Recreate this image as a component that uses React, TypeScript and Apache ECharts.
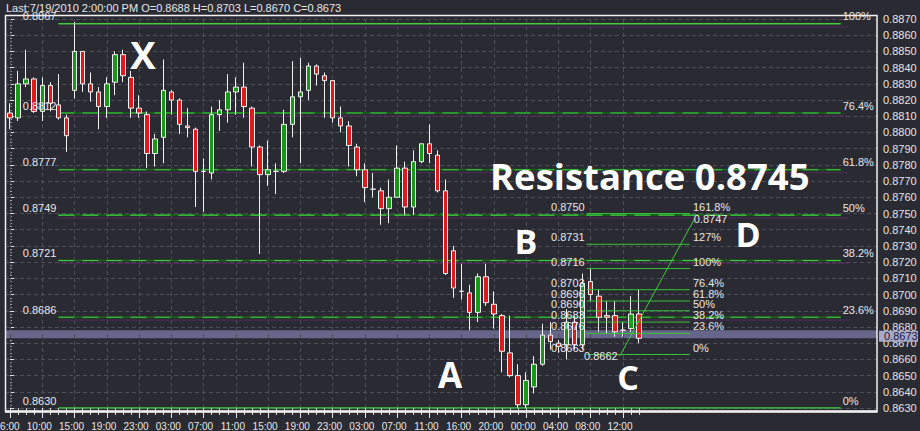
import React, { useEffect, useRef } from "react";
import * as echarts from "echarts";

const BG = "#2a2a32";
const headerText = "Last:7/19/2010 2:00:00 PM O=0.8688 H=0.8703 L=0.8670 C=0.8673";

const timeLabels = ["06:00", "10:00", "15:00", "19:00", "23:00", "03:00", "07:00", "11:00", "15:00", "19:00",
  "23:00", "03:00", "07:00", "11:00", "16:00", "20:00", "00:00", "04:00", "08:00", "12:00"];

const opens = [0.8812, 0.8809, 0.8830, 0.8833, 0.8813, 0.8829, 0.8817, 0.8809, 0.8826, 0.8850,
  0.8830, 0.8825, 0.8816, 0.8831, 0.8848, 0.8834, 0.8815, 0.8811, 0.8787, 0.8797,
  0.8825, 0.8820, 0.8804, 0.8802, 0.8776, 0.8775, 0.8811, 0.8814, 0.8825, 0.8828,
  0.8815, 0.8791, 0.8774, 0.8776, 0.8776, 0.8805, 0.8822, 0.8826, 0.8841, 0.8835,
  0.8832, 0.8809, 0.8804, 0.8791, 0.8777, 0.8765, 0.8764, 0.8753, 0.8760, 0.8778,
  0.8754, 0.8782, 0.8793, 0.8786, 0.8764, 0.8727, 0.8702, 0.8701, 0.8689, 0.8711,
  0.8694, 0.8687, 0.8664, 0.8650, 0.8632, 0.8643, 0.8657, 0.8675, 0.8670, 0.8669,
  0.8683, 0.8669, 0.8708, 0.8699, 0.8687, 0.8687, 0.8678, 0.8679, 0.8688];
const closes = [0.8809, 0.8830, 0.8833, 0.8813, 0.8829, 0.8818, 0.8809, 0.8798, 0.8850, 0.8830,
  0.8825, 0.8816, 0.8830, 0.8848, 0.8835, 0.8815, 0.8812, 0.8787, 0.8796, 0.8826,
  0.8820, 0.8805, 0.8803, 0.8776, 0.8776, 0.8811, 0.8814, 0.8825, 0.8828, 0.8816,
  0.8791, 0.8774, 0.8777, 0.8776, 0.8805, 0.8822, 0.8825, 0.8841, 0.8836, 0.8832,
  0.8809, 0.8804, 0.8792, 0.8777, 0.8766, 0.8765, 0.8753, 0.8760, 0.8778, 0.8754,
  0.8782, 0.8793, 0.8787, 0.8764, 0.8713, 0.8704, 0.8702, 0.8689, 0.8711, 0.8695,
  0.8688, 0.8665, 0.8650, 0.8632, 0.8647, 0.8657, 0.8675, 0.8671, 0.8668, 0.8683,
  0.8669, 0.8707, 0.8700, 0.8686, 0.8686, 0.8677, 0.8678, 0.8688, 0.8673];
const lows = [0.8802, 0.8807, 0.8828, 0.8812, 0.8807, 0.8813, 0.8808, 0.8788, 0.8821, 0.8825,
  0.8819, 0.8802, 0.8809, 0.8823, 0.8831, 0.8809, 0.8809, 0.8778, 0.8779, 0.8781,
  0.8811, 0.8799, 0.8797, 0.8754, 0.8751, 0.8771, 0.8801, 0.8806, 0.8811, 0.8809,
  0.8779, 0.8725, 0.8767, 0.8762, 0.8775, 0.8797, 0.8781, 0.8820, 0.8829, 0.8809,
  0.8806, 0.8800, 0.8779, 0.8773, 0.8757, 0.8760, 0.8743, 0.8744, 0.8760, 0.8749,
  0.8749, 0.8781, 0.8781, 0.8763, 0.8712, 0.8698, 0.8697, 0.8678, 0.8683, 0.8693,
  0.8679, 0.8652, 0.8649, 0.8630, 0.8630, 0.8639, 0.8656, 0.8666, 0.8664, 0.8660,
  0.8666, 0.8666, 0.8696, 0.8677, 0.8676, 0.8674, 0.8674, 0.8677, 0.8670];
const highs = [0.8818, 0.8838, 0.8851, 0.8834, 0.8834, 0.8831, 0.8836, 0.8811, 0.8868, 0.8850,
  0.8837, 0.8828, 0.8834, 0.8850, 0.8851, 0.8838, 0.8823, 0.8813, 0.8799, 0.8845,
  0.8826, 0.8821, 0.8815, 0.8803, 0.8784, 0.8816, 0.8820, 0.8836, 0.8834, 0.8843,
  0.8816, 0.8792, 0.8795, 0.8781, 0.8814, 0.8844, 0.8846, 0.8843, 0.8842, 0.8837,
  0.8832, 0.8816, 0.8807, 0.8793, 0.8781, 0.8775, 0.8766, 0.8771, 0.8792, 0.8782,
  0.8789, 0.8793, 0.8805, 0.8789, 0.8771, 0.8730, 0.8719, 0.8706, 0.8713, 0.8719,
  0.8702, 0.8688, 0.8687, 0.8657, 0.8652, 0.8662, 0.8682, 0.8683, 0.8672, 0.8691,
  0.8687, 0.8713, 0.8716, 0.8703, 0.8696, 0.8696, 0.8683, 0.8699, 0.8703];

// XA retracement
const xaPercents = ["100%", "76.4%", "61.8%", "50%", "38.2%", "23.6%", "0%"];
const xaValues = [0.8867, 0.8812, 0.8777, 0.8749, 0.8721, 0.8686, 0.8630];
const xaRange = [6, 103];

// BC extension
const bcPercents = ["161.8%", "127%", "100%", "76.4%", "61.8%", "50%", "38.2%", "23.6%", "0%"];
const bcValues = [0.8750, 0.8731, 0.8716, 0.8703, 0.8696, 0.8690, 0.8683, 0.8676, 0.8663];
const bcRange = [71.5, 84.3];

// C -> D projection
const cdX = [75.6, 84.9];
const cdY = [0.8662, 0.8747];

const lastPrice = 0.8673;
const bandRange = [0.8673, 0.8678];

const Y_MIN = 0.863;
const Y_MAX = 0.887;
const N_CAT = 108;

const SMALL_FONT = '11px "Liberation Sans", Arial, sans-serif';

export default function App() {
  const ref = useRef<HTMLDivElement>(null);
  useEffect(() => {
    document.body.style.margin = "0";
    document.body.style.background = BG;
    const chart = echarts.init(ref.current!, null, { renderer: "svg" });
    const categories = Array.from({ length: N_CAT }, (_, i) =>
      i % 4 === 0 && i / 4 < timeLabels.length ? timeLabels[i / 4] : ""
    );
    const lastIdx = opens.length - 1;
    const labelIdxMax = (timeLabels.length - 1) * 4;
    const candles = opens.map((o, i) => [o, closes[i], lows[i], highs[i]]);
    const vGrid: any[] = [];
    for (let i = 0; i <= labelIdxMax; i += 4) vGrid.push({ xAxis: i });

    const series: any[] = [];
    series.push({
      type: "line",
      xAxisIndex: 1,
      yAxisIndex: 0,
      data: [[0, Y_MIN]],
      symbol: "none",
      lineStyle: { opacity: 0 },
      silent: true,
      z: 1,
      markLine: {
        silent: true,
        z: 1,
        symbol: ["none", "none"],
        label: { show: false },
        lineStyle: { type: [4, 3], color: "#4e4e5a", width: 1 },
        data: vGrid,
      },
      markArea: {
        silent: true,
        z: 1,
        itemStyle: { color: "#66668a" },
        data: [[{ xAxis: -0.5, yAxis: bandRange[0] }, { xAxis: N_CAT - 0.5, yAxis: bandRange[1] }]],
      },
    });

    xaValues.forEach((v, k) => {
      const solid = k === 0 || k === xaValues.length - 1;
      series.push({
        type: "line", xAxisIndex: 1, yAxisIndex: 0, symbol: "none", silent: true, z: 2,
        data: [[xaRange[0], v - 0.00018], [xaRange[1] + 1, v - 0.00018]],
        lineStyle: { color: "#4a2a52", width: 1.2 },
      });
      if (!solid) {
        series.push({
          type: "line", xAxisIndex: 1, yAxisIndex: 0, symbol: "none", silent: true, z: 2,
          data: [[xaRange[0], v], [xaRange[1], v]],
          lineStyle: { color: "#1c5a1c", width: 2 },
        });
      }
      series.push({
        type: "line", xAxisIndex: 1, yAxisIndex: 0, symbol: "none", silent: true, z: 2,
        data: [[xaRange[0], v], [xaRange[1], v]],
        lineStyle: { color: "#3fcf3f", width: solid ? 1.5 : 1.2, type: solid ? "solid" : [16, 8] },
      });
    });

    series.push({
      type: "candlestick",
      xAxisIndex: 0,
      yAxisIndex: 0,
      data: candles,
      barWidth: 5,
      z: 4,
      itemStyle: {
        color: "#159a15",
        color0: "#e01a1a",
        borderColor: "#f2f2f2",
        borderColor0: "#f2f2f2",
        borderWidth: 1,
      },
    });

    bcValues.forEach((v) => {
      series.push({
        type: "line", xAxisIndex: 1, yAxisIndex: 0, symbol: "none", silent: true, z: 5,
        data: [[bcRange[0], v], [bcRange[1], v]],
        lineStyle: { color: "#36c236", width: 1 },
      });
    });
    series.push({
      type: "line", xAxisIndex: 1, yAxisIndex: 0, symbol: "none", silent: true, z: 5,
      data: [[cdX[0], cdY[0]], [cdX[1], cdY[1]]],
      lineStyle: { color: "#3ccc3c", width: 1 },
    });

    const option: any = {
      animation: false,
      backgroundColor: BG,
      grid: { left: 6, right: 43, top: 19, bottom: 23, containLabel: false, outerBoundsMode: "none" },
      xAxis: [
        {
          type: "category",
          data: categories,
          boundaryGap: true,
          axisLine: { show: false },
          axisTick: {
            show: true, alignWithLabel: true, length: 7,
            interval: (i: number) => i <= lastIdx,
            lineStyle: { color: "#d8d8d8" },
          },
          axisLabel: { show: false },
          splitLine: { show: false },
        },
        {
          type: "value",
          show: false,
          min: -0.5,
          max: N_CAT - 0.5,
          splitLine: { show: false },
        },
        {
          type: "category",
          data: categories,
          boundaryGap: true,
          position: "bottom",
          axisLine: { show: false },
          axisTick: {
            show: true, alignWithLabel: true, length: 10,
            interval: (i: number) => i % 4 === 0 && i <= labelIdxMax,
            lineStyle: { color: "#e6e6e6" },
          },
          axisLabel: {
            show: true,
            interval: (i: number) => i % 4 === 0 && i <= labelIdxMax,
            color: "#e6e6e6",
            fontSize: 10,
            fontFamily: '"Liberation Sans", Arial, sans-serif',
            margin: 13,
            padding: [0, 6, 0, 0],
          },
          splitLine: { show: false },
        },
      ],
      yAxis: {
        type: "value",
        position: "right",
        min: Y_MIN,
        max: Y_MAX,
        interval: 0.001,
        axisLine: { show: false },
        axisTick: { show: true, length: 4, lineStyle: { color: "#e0e0e0" } },
        minorTick: { show: true, splitNumber: 5, length: 2, lineStyle: { color: "#9a9aa4" } },
        axisLabel: {
          color: "#e6e6e6",
          fontSize: 11,
          fontFamily: '"Liberation Sans", Arial, sans-serif',
          margin: 6,
          formatter: (v: number) => v.toFixed(4),
        },
        splitLine: { show: true, lineStyle: { type: [4, 3], color: "#4e4e5a", width: 1 } },
      },
      series,
    };
    chart.setOption(option);

    const X = (v: number) => chart.convertToPixel({ xAxisIndex: 1 }, v) as number;
    const Y = (v: number) => chart.convertToPixel({ yAxisIndex: 0 }, v) as number;
    const txt = (text: string, x: number, y: number, align: string, fill = "#e8e8e8", font = SMALL_FONT, z = 60) => ({
      type: "text", x, y, z,
      style: { text, fill, font, align, verticalAlign: "middle", textAlign: align, textVerticalAlign: "middle" },
    });

    const g: any[] = [];
    xaValues.forEach((v, k) => {
      g.push(txt(v.toFixed(4), X(xaRange[0]) - 2, Y(v) - 7.5, "right"));
      g.push(txt(xaPercents[k], X(xaRange[1]) + 2, Y(v) - 7.5, "left"));
    });
    bcValues.forEach((v, k) => {
      g.push(txt(v.toFixed(4), X(bcRange[0]) - 2, Y(v) - 7, "right"));
      g.push(txt(bcPercents[k], X(bcRange[1]) + 3, Y(v) - 7, "left"));
    });
    g.push(txt(cdY[0].toFixed(4), X(cdX[0]) - 2, Y(cdY[0]), "right"));
    g.push(txt(cdY[1].toFixed(4), X(cdX[1]) - 1, Y(cdY[1]) + 1, "left"));

    // header cover + text
    g.push({ type: "rect", z: 58, shape: { x: 0, y: 0, width: 920, height: 13.5 }, style: { fill: BG } });
    g.push({ type: "text", x: 6, y: 7.5, z: 61, style: { text: headerText, fill: "#e8e8e8", font: SMALL_FONT, verticalAlign: "middle", textVerticalAlign: "middle" } });

    // plot border
    g.push({ type: "rect", z: 59, shape: { x: 5.5, y: 15.5, width: 871.5, height: 396 }, style: { fill: "none", stroke: "#f0f0f0", lineWidth: 1.5 } });
    g.push({ type: "line", z: 59, shape: { x1: 5, y1: 411.5, x2: 877.5, y2: 411.5 }, style: { stroke: "#f0f0f0", lineWidth: 2.5 } });

    // price tag
    const py = Y(lastPrice) - 2;
    g.push({ type: "rect", z: 62, shape: { x: 879, y: py - 5.5, width: 39, height: 11 }, style: { fill: "#a8a8c8" } });
    g.push({ type: "text", x: 884, y: py, z: 63, style: { text: lastPrice.toFixed(4), fill: "#1c1c44", font: SMALL_FONT, verticalAlign: "middle", textVerticalAlign: "middle" } });

    // annotations
    const big = (text: string, x: number, y: number, align = "center", size = 35) => ({
      type: "text", x, y, z: 70,
      style: {
        text, fill: "#ffffff",
        font: `bold ${size}px "Open Sans", "DejaVu Sans", sans-serif`,
        align, verticalAlign: "middle", textAlign: align, textVerticalAlign: "middle",
      },
    });
    g.push(big("X", 143, 54, "center", 38));
    g.push(big("Resistance 0.8745", 490, 176, "left", 36.5));
    g.push(big("B", 526, 241, "center", 34));
    g.push(big("D", 748, 234, "center", 34));
    g.push(big("A", 450, 374, "center", 35));
    g.push(big("C", 628, 377, "center", 34));

    chart.setOption({ graphic: g });

    return () => chart.dispose();
  }, []);
  return (
    <div
      ref={ref}
      style={{ position: "absolute", left: 0, top: 0, width: 920, height: 431, background: BG }}
    />
  );
}
